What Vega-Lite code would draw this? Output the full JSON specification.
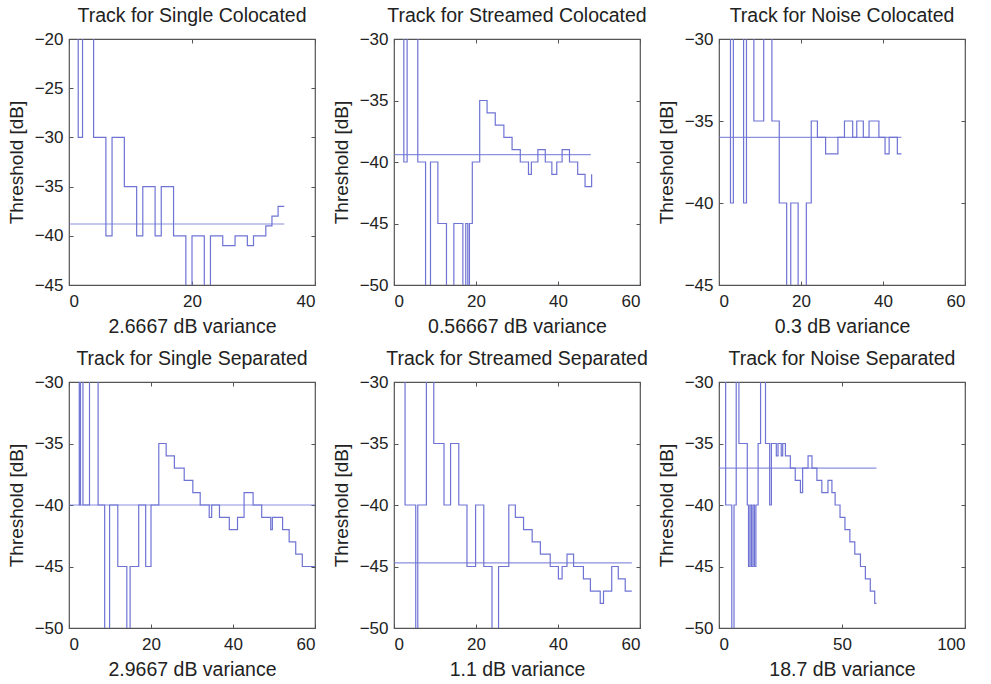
{
  "$schema": "https://vega.github.io/schema/vega-lite/v6.json",
  "padding": {"left": 6, "top": 4, "right": 5, "bottom": 5},
  "background": "white",
  "datasets": {
    "tracks": [
      {"p":"a","x":1,"y":-10},{"p":"a","x":1.5,"y":-30},{"p":"a","x":2.2,"y":-10},{"p":"a","x":4,"y":-30},{"p":"a","x":6,"y":-40},{"p":"a","x":7,"y":-30},{"p":"a","x":9,"y":-35},{"p":"a","x":11,"y":-40},{"p":"a","x":12,"y":-35},{"p":"a","x":14,"y":-40},{"p":"a","x":15,"y":-35},{"p":"a","x":17,"y":-40},{"p":"a","x":19,"y":-50},{"p":"a","x":20,"y":-40},{"p":"a","x":22,"y":-50},{"p":"a","x":23,"y":-40},{"p":"a","x":25,"y":-41},{"p":"a","x":27,"y":-40},{"p":"a","x":29,"y":-41},{"p":"a","x":30,"y":-40},{"p":"a","x":32,"y":-39},{"p":"a","x":33,"y":-38},{"p":"a","x":34,"y":-37},{"p":"a","x":35,"y":-37},
      {"p":"b","x":1,"y":-20},{"p":"b","x":2.4,"y":-40},{"p":"b","x":3.2,"y":-20},{"p":"b","x":5.8,"y":-40},{"p":"b","x":7.7,"y":-55},{"p":"b","x":8.9,"y":-40},{"p":"b","x":10.7,"y":-45},{"p":"b","x":12.8,"y":-55},{"p":"b","x":14.6,"y":-45},{"p":"b","x":16.8,"y":-55},{"p":"b","x":17.5,"y":-45},{"p":"b","x":18,"y":-55},{"p":"b","x":18.4,"y":-45},{"p":"b","x":19.1,"y":-40},{"p":"b","x":20.9,"y":-35},{"p":"b","x":22.7,"y":-36},{"p":"b","x":24.7,"y":-37},{"p":"b","x":26.8,"y":-38},{"p":"b","x":28.8,"y":-39},{"p":"b","x":30.8,"y":-40},{"p":"b","x":32.8,"y":-41},{"p":"b","x":33.5,"y":-40},{"p":"b","x":35.1,"y":-39},{"p":"b","x":36.9,"y":-40},{"p":"b","x":38.5,"y":-41},{"p":"b","x":39.7,"y":-40},{"p":"b","x":41,"y":-39},{"p":"b","x":42.8,"y":-40},{"p":"b","x":44.8,"y":-41},{"p":"b","x":46.6,"y":-42},{"p":"b","x":48.2,"y":-41},
      {"p":"c","x":1,"y":-25},{"p":"c","x":2.8,"y":-40},{"p":"c","x":3.5,"y":-25},{"p":"c","x":6,"y":-40},{"p":"c","x":6.7,"y":-25},{"p":"c","x":8.5,"y":-35},{"p":"c","x":10.9,"y":-25},{"p":"c","x":12.9,"y":-35},{"p":"c","x":14.7,"y":-40},{"p":"c","x":16.5,"y":-50},{"p":"c","x":17.5,"y":-40},{"p":"c","x":19.3,"y":-50},{"p":"c","x":21.3,"y":-40},{"p":"c","x":22.5,"y":-35},{"p":"c","x":24,"y":-36},{"p":"c","x":26,"y":-37},{"p":"c","x":29,"y":-36},{"p":"c","x":30.6,"y":-35},{"p":"c","x":32.6,"y":-36},{"p":"c","x":33.6,"y":-35},{"p":"c","x":35.2,"y":-36},{"p":"c","x":36.6,"y":-35},{"p":"c","x":39,"y":-36},{"p":"c","x":40.5,"y":-37},{"p":"c","x":41.5,"y":-36},{"p":"c","x":43.5,"y":-37},{"p":"c","x":44.5,"y":-37},
      {"p":"d","x":1,"y":-25},{"p":"d","x":2.5,"y":-40},{"p":"d","x":2.8,"y":-25},{"p":"d","x":3.4,"y":-40},{"p":"d","x":5,"y":-25},{"p":"d","x":7.1,"y":-40},{"p":"d","x":8.7,"y":-55},{"p":"d","x":9.9,"y":-40},{"p":"d","x":11.9,"y":-45},{"p":"d","x":14.1,"y":-55},{"p":"d","x":14.9,"y":-45},{"p":"d","x":17,"y":-40},{"p":"d","x":18.7,"y":-45},{"p":"d","x":20,"y":-40},{"p":"d","x":21.9,"y":-35},{"p":"d","x":23.7,"y":-36},{"p":"d","x":25.7,"y":-37},{"p":"d","x":28.1,"y":-38},{"p":"d","x":30.2,"y":-39},{"p":"d","x":32,"y":-40},{"p":"d","x":34.2,"y":-41},{"p":"d","x":34.8,"y":-40},{"p":"d","x":36.7,"y":-41},{"p":"d","x":39.1,"y":-42},{"p":"d","x":41.1,"y":-41},{"p":"d","x":42.7,"y":-39},{"p":"d","x":44.9,"y":-40},{"p":"d","x":47,"y":-41},{"p":"d","x":49.2,"y":-42},{"p":"d","x":49.6,"y":-41},{"p":"d","x":52.1,"y":-42},{"p":"d","x":53.7,"y":-43},{"p":"d","x":55.3,"y":-44},{"p":"d","x":56.9,"y":-45},{"p":"d","x":60,"y":-45},
      {"p":"e","x":1,"y":-25},{"p":"e","x":2.7,"y":-40},{"p":"e","x":5.3,"y":-55},{"p":"e","x":5.8,"y":-40},{"p":"e","x":7.9,"y":-25},{"p":"e","x":9.7,"y":-35},{"p":"e","x":12.2,"y":-40},{"p":"e","x":13.8,"y":-35},{"p":"e","x":15.8,"y":-40},{"p":"e","x":17.8,"y":-45},{"p":"e","x":19.9,"y":-40},{"p":"e","x":21.9,"y":-45},{"p":"e","x":23.9,"y":-55},{"p":"e","x":25.5,"y":-45},{"p":"e","x":28,"y":-40},{"p":"e","x":29.6,"y":-41},{"p":"e","x":31.6,"y":-42},{"p":"e","x":33.7,"y":-43},{"p":"e","x":35.7,"y":-44},{"p":"e","x":38.1,"y":-45},{"p":"e","x":40.1,"y":-46},{"p":"e","x":41,"y":-45},{"p":"e","x":42.2,"y":-44},{"p":"e","x":43.8,"y":-45},{"p":"e","x":46.2,"y":-46},{"p":"e","x":47.9,"y":-47},{"p":"e","x":50.3,"y":-48},{"p":"e","x":51.1,"y":-47},{"p":"e","x":53.1,"y":-45},{"p":"e","x":54.7,"y":-46},{"p":"e","x":56.4,"y":-47},{"p":"e","x":58,"y":-47},
      {"p":"f","x":1,"y":-25},{"p":"f","x":2.7,"y":-40},{"p":"f","x":5.2,"y":-55},{"p":"f","x":6.1,"y":-40},{"p":"f","x":7,"y":-25},{"p":"f","x":8.1,"y":-35},{"p":"f","x":11.5,"y":-40},{"p":"f","x":12,"y":-45},{"p":"f","x":12.6,"y":-40},{"p":"f","x":13.2,"y":-45},{"p":"f","x":13.8,"y":-40},{"p":"f","x":14.4,"y":-45},{"p":"f","x":15,"y":-40},{"p":"f","x":15.9,"y":-35},{"p":"f","x":16.9,"y":-25},{"p":"f","x":18.9,"y":-35},{"p":"f","x":20.6,"y":-40},{"p":"f","x":21.3,"y":-35},{"p":"f","x":23.3,"y":-36},{"p":"f","x":24,"y":-35},{"p":"f","x":25.3,"y":-36},{"p":"f","x":25.9,"y":-35},{"p":"f","x":27,"y":-36},{"p":"f","x":29,"y":-37},{"p":"f","x":31,"y":-38},{"p":"f","x":33.1,"y":-39},{"p":"f","x":34,"y":-37},{"p":"f","x":36.2,"y":-36},{"p":"f","x":37.8,"y":-37},{"p":"f","x":39.8,"y":-38},{"p":"f","x":41.8,"y":-39},{"p":"f","x":44.3,"y":-38},{"p":"f","x":45.9,"y":-39},{"p":"f","x":47.2,"y":-40},{"p":"f","x":49.2,"y":-41},{"p":"f","x":51.2,"y":-42},{"p":"f","x":53.2,"y":-43},{"p":"f","x":55.2,"y":-44},{"p":"f","x":57.5,"y":-45},{"p":"f","x":59.5,"y":-46},{"p":"f","x":61.5,"y":-47},{"p":"f","x":63.3,"y":-48},{"p":"f","x":64,"y":-48}
    ],
    "means": [
      {"p":"a","x0":0,"x1":35,"m":-38.8},
      {"p":"b","x0":0,"x1":48,"m":-39.4},
      {"p":"c","x0":0,"x1":44.5,"m":-36.0},
      {"p":"d","x0":0,"x1":60,"m":-40.0},
      {"p":"e","x0":0,"x1":58,"m":-44.7},
      {"p":"f","x0":0,"x1":64,"m":-37.0}
    ]
  },
  "columns": 3,
  "spacing": {"row": 97, "column": 79},
  "bounds": "flush",
  "concat": [
    {
      "width": 246, "height": 246,
      "title": "Track for Single Colocated",
      "layer": [
        {"data": {"name": "tracks"}, "transform": [{"filter": "datum.p == 'a'"}],
         "mark": {"type": "line", "interpolate": "step-after", "clip": true, "color": "#6f74d4", "strokeWidth": 1.2},
         "encoding": {
           "x": {"field": "x", "type": "quantitative", "scale": {"domain": [0, 40], "nice": false, "zero": false}, "axis": {"values": [0, 20, 40], "title": "2.6667 dB variance"}},
           "y": {"field": "y", "type": "quantitative", "scale": {"domain": [-45, -20], "nice": false, "zero": false}, "axis": {"values": [-45, -40, -35, -30, -25, -20], "title": "Threshold [dB]"}}}},
        {"data": {"name": "means"}, "transform": [{"filter": "datum.p == 'a'"}],
         "mark": {"type": "rule", "clip": true, "color": "#6f74d4", "strokeWidth": 1.2, "opacity": 0.8},
         "encoding": {
           "x": {"field": "x0", "type": "quantitative", "axis": {"orient": "top", "values": [0, 20, 40], "labels": false, "title": null}},
           "x2": {"field": "x1"},
           "y": {"field": "m", "type": "quantitative", "axis": {"orient": "right", "values": [-45, -40, -35, -30, -25, -20], "labels": false, "title": null}}}}
      ],
      "resolve": {"axis": {"x": "independent", "y": "independent"}}
    },
    {
      "width": 246, "height": 246,
      "title": "Track for Streamed Colocated",
      "layer": [
        {"data": {"name": "tracks"}, "transform": [{"filter": "datum.p == 'b'"}],
         "mark": {"type": "line", "interpolate": "step-after", "clip": true, "color": "#6f74d4", "strokeWidth": 1.2},
         "encoding": {
           "x": {"field": "x", "type": "quantitative", "scale": {"domain": [0, 60], "nice": false, "zero": false}, "axis": {"values": [0, 20, 40, 60], "title": "0.56667 dB variance"}},
           "y": {"field": "y", "type": "quantitative", "scale": {"domain": [-50, -30], "nice": false, "zero": false}, "axis": {"values": [-50, -45, -40, -35, -30], "title": "Threshold [dB]"}}}},
        {"data": {"name": "means"}, "transform": [{"filter": "datum.p == 'b'"}],
         "mark": {"type": "rule", "clip": true, "color": "#6f74d4", "strokeWidth": 1.2, "opacity": 0.8},
         "encoding": {
           "x": {"field": "x0", "type": "quantitative", "axis": {"orient": "top", "values": [0, 20, 40, 60], "labels": false, "title": null}},
           "x2": {"field": "x1"},
           "y": {"field": "m", "type": "quantitative", "axis": {"orient": "right", "values": [-50, -45, -40, -35, -30], "labels": false, "title": null}}}}
      ],
      "resolve": {"axis": {"x": "independent", "y": "independent"}}
    },
    {
      "width": 246, "height": 246,
      "title": "Track for Noise Colocated",
      "layer": [
        {"data": {"name": "tracks"}, "transform": [{"filter": "datum.p == 'c'"}],
         "mark": {"type": "line", "interpolate": "step-after", "clip": true, "color": "#6f74d4", "strokeWidth": 1.2},
         "encoding": {
           "x": {"field": "x", "type": "quantitative", "scale": {"domain": [0, 60], "nice": false, "zero": false}, "axis": {"values": [0, 20, 40, 60], "title": "0.3 dB variance"}},
           "y": {"field": "y", "type": "quantitative", "scale": {"domain": [-45, -30], "nice": false, "zero": false}, "axis": {"values": [-45, -40, -35, -30], "title": "Threshold [dB]"}}}},
        {"data": {"name": "means"}, "transform": [{"filter": "datum.p == 'c'"}],
         "mark": {"type": "rule", "clip": true, "color": "#6f74d4", "strokeWidth": 1.2, "opacity": 0.8},
         "encoding": {
           "x": {"field": "x0", "type": "quantitative", "axis": {"orient": "top", "values": [0, 20, 40, 60], "labels": false, "title": null}},
           "x2": {"field": "x1"},
           "y": {"field": "m", "type": "quantitative", "axis": {"orient": "right", "values": [-45, -40, -35, -30], "labels": false, "title": null}}}}
      ],
      "resolve": {"axis": {"x": "independent", "y": "independent"}}
    },
    {
      "width": 246, "height": 246,
      "title": "Track for Single Separated",
      "layer": [
        {"data": {"name": "tracks"}, "transform": [{"filter": "datum.p == 'd'"}],
         "mark": {"type": "line", "interpolate": "step-after", "clip": true, "color": "#6f74d4", "strokeWidth": 1.2},
         "encoding": {
           "x": {"field": "x", "type": "quantitative", "scale": {"domain": [0, 60], "nice": false, "zero": false}, "axis": {"values": [0, 20, 40, 60], "title": "2.9667 dB variance"}},
           "y": {"field": "y", "type": "quantitative", "scale": {"domain": [-50, -30], "nice": false, "zero": false}, "axis": {"values": [-50, -45, -40, -35, -30], "title": "Threshold [dB]"}}}},
        {"data": {"name": "means"}, "transform": [{"filter": "datum.p == 'd'"}],
         "mark": {"type": "rule", "clip": true, "color": "#6f74d4", "strokeWidth": 1.2, "opacity": 0.8},
         "encoding": {
           "x": {"field": "x0", "type": "quantitative", "axis": {"orient": "top", "values": [0, 20, 40, 60], "labels": false, "title": null}},
           "x2": {"field": "x1"},
           "y": {"field": "m", "type": "quantitative", "axis": {"orient": "right", "values": [-50, -45, -40, -35, -30], "labels": false, "title": null}}}}
      ],
      "resolve": {"axis": {"x": "independent", "y": "independent"}}
    },
    {
      "width": 246, "height": 246,
      "title": "Track for Streamed Separated",
      "layer": [
        {"data": {"name": "tracks"}, "transform": [{"filter": "datum.p == 'e'"}],
         "mark": {"type": "line", "interpolate": "step-after", "clip": true, "color": "#6f74d4", "strokeWidth": 1.2},
         "encoding": {
           "x": {"field": "x", "type": "quantitative", "scale": {"domain": [0, 60], "nice": false, "zero": false}, "axis": {"values": [0, 20, 40, 60], "title": "1.1 dB variance"}},
           "y": {"field": "y", "type": "quantitative", "scale": {"domain": [-50, -30], "nice": false, "zero": false}, "axis": {"values": [-50, -45, -40, -35, -30], "title": "Threshold [dB]"}}}},
        {"data": {"name": "means"}, "transform": [{"filter": "datum.p == 'e'"}],
         "mark": {"type": "rule", "clip": true, "color": "#6f74d4", "strokeWidth": 1.2, "opacity": 0.8},
         "encoding": {
           "x": {"field": "x0", "type": "quantitative", "axis": {"orient": "top", "values": [0, 20, 40, 60], "labels": false, "title": null}},
           "x2": {"field": "x1"},
           "y": {"field": "m", "type": "quantitative", "axis": {"orient": "right", "values": [-50, -45, -40, -35, -30], "labels": false, "title": null}}}}
      ],
      "resolve": {"axis": {"x": "independent", "y": "independent"}}
    },
    {
      "width": 246, "height": 246,
      "title": "Track for Noise Separated",
      "layer": [
        {"data": {"name": "tracks"}, "transform": [{"filter": "datum.p == 'f'"}],
         "mark": {"type": "line", "interpolate": "step-after", "clip": true, "color": "#6f74d4", "strokeWidth": 1.2},
         "encoding": {
           "x": {"field": "x", "type": "quantitative", "scale": {"domain": [0, 100], "nice": false, "zero": false}, "axis": {"values": [0, 50, 100], "title": "18.7 dB variance"}},
           "y": {"field": "y", "type": "quantitative", "scale": {"domain": [-50, -30], "nice": false, "zero": false}, "axis": {"values": [-50, -45, -40, -35, -30], "title": "Threshold [dB]"}}}},
        {"data": {"name": "means"}, "transform": [{"filter": "datum.p == 'f'"}],
         "mark": {"type": "rule", "clip": true, "color": "#6f74d4", "strokeWidth": 1.2, "opacity": 0.8},
         "encoding": {
           "x": {"field": "x0", "type": "quantitative", "axis": {"orient": "top", "values": [0, 50, 100], "labels": false, "title": null}},
           "x2": {"field": "x1"},
           "y": {"field": "m", "type": "quantitative", "axis": {"orient": "right", "values": [-50, -45, -40, -35, -30], "labels": false, "title": null}}}}
      ],
      "resolve": {"axis": {"x": "independent", "y": "independent"}}
    }
  ],
  "config": {
    "view": {"stroke": "#555555", "strokeWidth": 1.2},
    "axis": {
      "grid": false, "domain": false,
      "tickSize": -4, "tickColor": "#555555", "tickWidth": 1,
      "labelFont": "Liberation Sans", "labelFontSize": 17, "labelColor": "#222222", "labelPadding": 10,
      "titleFont": "Liberation Sans", "titleFontSize": 19.5, "titleFontWeight": "normal", "titleColor": "#222222", "titlePadding": 8
    },
    "axisBottom": {"labelPadding": 12.5},
    "axisLeft": {"titlePadding": 8, "titleFontSize": 19},
    "title": {"font": "Liberation Sans", "fontSize": 19.5, "fontWeight": "normal", "color": "#222222", "offset": 4, "frame": "group", "anchor": "middle"}
  }
}
